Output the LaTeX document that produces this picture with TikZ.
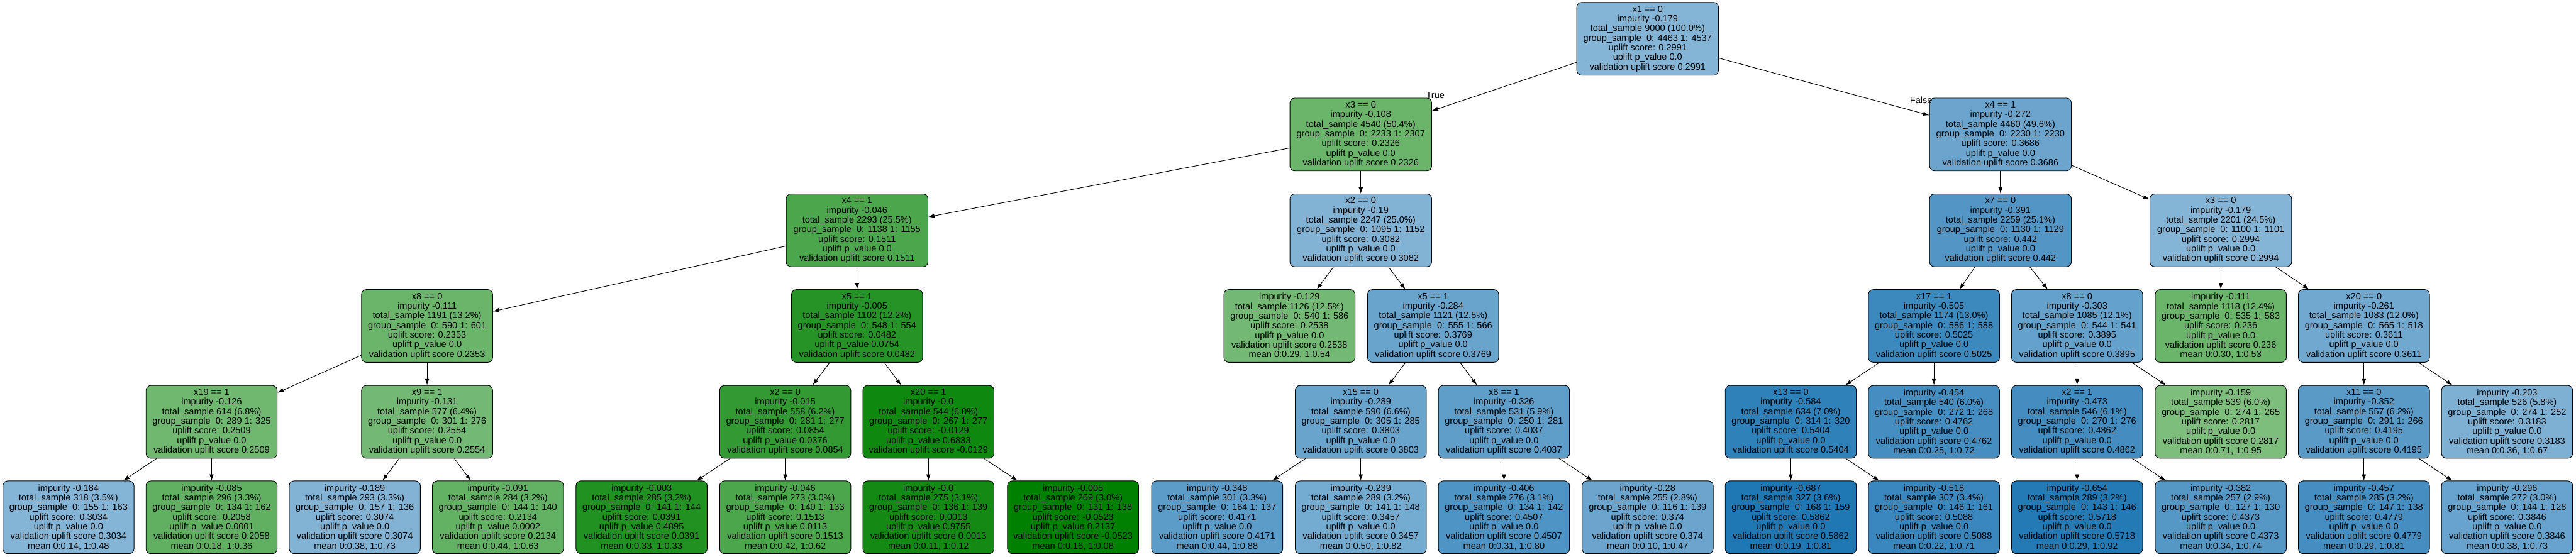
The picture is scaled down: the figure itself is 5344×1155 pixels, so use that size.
\documentclass[tikz,border=0pt]{standalone}
\usepackage{fontspec}
\setmainfont{Liberation Sans}
\usetikzlibrary{arrows.meta}

\definecolor{tgreen}{RGB}{0,128,0}
\definecolor{tblue}{RGB}{31,119,180}
\tikzset{
    grn/.style={fill=tgreen!#1!white},
    blu/.style={fill=tblue!#1!white}
}

\begin{document}
\begin{tikzpicture}[x=1pt, y=-1pt, line width=1.2pt,
    font=\fontsize{19}{20}\selectfont,
    box/.style={rectangle, rounded corners=10pt, draw, minimum height=151pt, minimum width=272pt, inner sep=0pt, align=center},
    wide/.style={box, minimum width=294pt},
    >={Latex[length=13pt, width=9pt]}
]
\useasboundingbox (0,0) rectangle (5344,1155);

% Nodes
\node[wide, blu=55] (v0) at (3418, 80.5) {x1 == 0\\impurity -0.179\\total\_sample 9000 (100.0\%)\\group\_sample\ \ 0: 4463 1: 4537\\uplift score: 0.2991\\uplift p\_value 0.0\\validation uplift score 0.2991};

\node[wide, grn=58] (v1) at (2823, 279) {x3 == 0\\impurity -0.108\\total\_sample 4540 (50.4\%)\\group\_sample\ \ 0: 2233 1: 2307\\uplift score: 0.2326\\uplift p\_value 0.0\\validation uplift score 0.2326};
\node[wide, blu=66] (v2) at (4150, 279) {x4 == 1\\impurity -0.272\\total\_sample 4460 (49.6\%)\\group\_sample\ \ 0: 2230 1: 2230\\uplift score: 0.3686\\uplift p\_value 0.0\\validation uplift score 0.3686};

\node[wide, grn=70] (v3) at (1778, 478) {x4 == 1\\impurity -0.046\\total\_sample 2293 (25.5\%)\\group\_sample\ \ 0: 1138 1: 1155\\uplift score: 0.1511\\uplift p\_value 0.0\\validation uplift score 0.1511};
\node[wide, blu=56] (v4) at (2823, 478) {x2 == 0\\impurity -0.19\\total\_sample 2247 (25.0\%)\\group\_sample\ \ 0: 1095 1: 1152\\uplift score: 0.3082\\uplift p\_value 0.0\\validation uplift score 0.3082};
\node[wide, blu=77] (v5) at (4150, 478) {x7 == 0\\impurity -0.391\\total\_sample 2259 (25.1\%)\\group\_sample\ \ 0: 1130 1: 1129\\uplift score: 0.442\\uplift p\_value 0.0\\validation uplift score 0.442};
\node[wide, blu=55] (v6) at (4607, 478) {x3 == 0\\impurity -0.179\\total\_sample 2201 (24.5\%)\\group\_sample\ \ 0: 1100 1: 1101\\uplift score: 0.2994\\uplift p\_value 0.0\\validation uplift score 0.2994};

\node[box, grn=58] (v7) at (886, 676.5) {x8 == 0\\impurity -0.111\\total\_sample 1191 (13.2\%)\\group\_sample\ \ 0: 590 1: 601\\uplift score: 0.2353\\uplift p\_value 0.0\\validation uplift score 0.2353};
\node[box, grn=85] (v8) at (1778, 676.5) {x5 == 1\\impurity -0.005\\total\_sample 1102 (12.2\%)\\group\_sample\ \ 0: 548 1: 554\\uplift score: 0.0482\\uplift p\_value 0.0754\\validation uplift score 0.0482};
\node[box, grn=55] (v9) at (2675, 676.5) {impurity -0.129\\total\_sample 1126 (12.5\%)\\group\_sample\ \ 0: 540 1: 586\\uplift score: 0.2538\\uplift p\_value 0.0\\validation uplift score 0.2538\\mean 0:0.29, 1:0.54};
\node[box, blu=67] (v10) at (2973, 676.5) {x5 == 1\\impurity -0.284\\total\_sample 1121 (12.5\%)\\group\_sample\ \ 0: 555 1: 566\\uplift score: 0.3769\\uplift p\_value 0.0\\validation uplift score 0.3769};
\node[box, blu=87] (v11) at (4012, 676.5) {x17 == 1\\impurity -0.505\\total\_sample 1174 (13.0\%)\\group\_sample\ \ 0: 586 1: 588\\uplift score: 0.5025\\uplift p\_value 0.0\\validation uplift score 0.5025};
\node[box, blu=69] (v12) at (4309, 676.5) {x8 == 0\\impurity -0.303\\total\_sample 1085 (12.1\%)\\group\_sample\ \ 0: 544 1: 541\\uplift score: 0.3895\\uplift p\_value 0.0\\validation uplift score 0.3895};
\node[box, grn=58] (v13) at (4607, 676.5) {impurity -0.111\\total\_sample 1118 (12.4\%)\\group\_sample\ \ 0: 535 1: 583\\uplift score: 0.236\\uplift p\_value 0.0\\validation uplift score 0.236\\mean 0:0.30, 1:0.53};
\node[box, blu=64] (v14) at (4904, 676.5) {x20 == 0\\impurity -0.261\\total\_sample 1083 (12.0\%)\\group\_sample\ \ 0: 565 1: 518\\uplift score: 0.3611\\uplift p\_value 0.0\\validation uplift score 0.3611};

\node[box, grn=56] (v15) at (439, 875.5) {x19 == 1\\impurity -0.126\\total\_sample 614 (6.8\%)\\group\_sample\ \ 0: 289 1: 325\\uplift score: 0.2509\\uplift p\_value 0.0\\validation uplift score 0.2509};
\node[box, grn=55] (v16) at (886, 875.5) {x9 == 1\\impurity -0.131\\total\_sample 577 (6.4\%)\\group\_sample\ \ 0: 301 1: 276\\uplift score: 0.2554\\uplift p\_value 0.0\\validation uplift score 0.2554};
\node[box, grn=80] (v17) at (1629, 875.5) {x2 == 0\\impurity -0.015\\total\_sample 558 (6.2\%)\\group\_sample\ \ 0: 281 1: 277\\uplift score: 0.0854\\uplift p\_value 0.0376\\validation uplift score 0.0854};
\node[box, grn=94] (v18) at (1926, 875.5) {x20 == 1\\impurity -0.0\\total\_sample 544 (6.0\%)\\group\_sample\ \ 0: 267 1: 277\\uplift score: -0.0129\\uplift p\_value 0.6833\\validation uplift score -0.0129};
\node[box, blu=67] (v19) at (2823, 875.5) {x15 == 0\\impurity -0.289\\total\_sample 590 (6.6\%)\\group\_sample\ \ 0: 305 1: 285\\uplift score: 0.3803\\uplift p\_value 0.0\\validation uplift score 0.3803};
\node[box, blu=71] (v20) at (3120, 875.5) {x6 == 1\\impurity -0.326\\total\_sample 531 (5.9\%)\\group\_sample\ \ 0: 250 1: 281\\uplift score: 0.4037\\uplift p\_value 0.0\\validation uplift score 0.4037};
\node[box, blu=93] (v21) at (3715, 875.5) {x13 == 0\\impurity -0.584\\total\_sample 634 (7.0\%)\\group\_sample\ \ 0: 314 1: 320\\uplift score: 0.5404\\uplift p\_value 0.0\\validation uplift score 0.5404};
\node[box, blu=83] (v22) at (4012, 875.5) {impurity -0.454\\total\_sample 540 (6.0\%)\\group\_sample\ \ 0: 272 1: 268\\uplift score: 0.4762\\uplift p\_value 0.0\\validation uplift score 0.4762\\mean 0:0.25, 1:0.72};
\node[box, blu=84] (v23) at (4309, 875.5) {x2 == 1\\impurity -0.473\\total\_sample 546 (6.1\%)\\group\_sample\ \ 0: 270 1: 276\\uplift score: 0.4862\\uplift p\_value 0.0\\validation uplift score 0.4862};
\node[box, grn=51] (v24) at (4607, 875.5) {impurity -0.159\\total\_sample 539 (6.0\%)\\group\_sample\ \ 0: 274 1: 265\\uplift score: 0.2817\\uplift p\_value 0.0\\validation uplift score 0.2817\\mean 0:0.71, 1:0.95};
\node[box, blu=74] (v25) at (4904, 875.5) {x11 == 0\\impurity -0.352\\total\_sample 557 (6.2\%)\\group\_sample\ \ 0: 291 1: 266\\uplift score: 0.4195\\uplift p\_value 0.0\\validation uplift score 0.4195};
\node[box, blu=58] (v26) at (5201, 875.5) {impurity -0.203\\total\_sample 526 (5.8\%)\\group\_sample\ \ 0: 274 1: 252\\uplift score: 0.3183\\uplift p\_value 0.0\\validation uplift score 0.3183\\mean 0:0.36, 1:0.67};

\node[box, blu=55] (v27) at (142, 1073.5) {impurity -0.184\\total\_sample 318 (3.5\%)\\group\_sample\ \ 0: 155 1: 163\\uplift score: 0.3034\\uplift p\_value 0.0\\validation uplift score 0.3034\\mean 0:0.14, 1:0.48};
\node[box, grn=62] (v28) at (439, 1073.5) {impurity -0.085\\total\_sample 296 (3.3\%)\\group\_sample\ \ 0: 134 1: 162\\uplift score: 0.2058\\uplift p\_value 0.0001\\validation uplift score 0.2058\\mean 0:0.18, 1:0.36};
\node[box, blu=56] (v29) at (736, 1073.5) {impurity -0.189\\total\_sample 293 (3.3\%)\\group\_sample\ \ 0: 157 1: 136\\uplift score: 0.3074\\uplift p\_value 0.0\\validation uplift score 0.3074\\mean 0:0.38, 1:0.73};
\node[box, grn=61] (v30) at (1033, 1073.5) {impurity -0.091\\total\_sample 284 (3.2\%)\\group\_sample\ \ 0: 144 1: 140\\uplift score: 0.2134\\uplift p\_value 0.0002\\validation uplift score 0.2134\\mean 0:0.44, 1:0.63};
\node[box, grn=87] (v31) at (1331, 1073.5) {impurity -0.003\\total\_sample 285 (3.2\%)\\group\_sample\ \ 0: 141 1: 144\\uplift score: 0.0391\\uplift p\_value 0.4895\\validation uplift score 0.0391\\mean 0:0.33, 1:0.33};
\node[box, grn=70] (v32) at (1629, 1073.5) {impurity -0.046\\total\_sample 273 (3.0\%)\\group\_sample\ \ 0: 140 1: 133\\uplift score: 0.1513\\uplift p\_value 0.0113\\validation uplift score 0.1513\\mean 0:0.42, 1:0.62};
\node[box, grn=92] (v33) at (1926, 1073.5) {impurity -0.0\\total\_sample 275 (3.1\%)\\group\_sample\ \ 0: 136 1: 139\\uplift score: 0.0013\\uplift p\_value 0.9755\\validation uplift score 0.0013\\mean 0:0.11, 1:0.12};
\node[box, grn=100] (v34) at (2226, 1073.5) {impurity -0.005\\total\_sample 269 (3.0\%)\\group\_sample\ \ 0: 131 1: 138\\uplift score: -0.0523\\uplift p\_value 0.2137\\validation uplift score -0.0523\\mean 0:0.16, 1:0.08};
\node[box, blu=73] (v35) at (2525, 1073.5) {impurity -0.348\\total\_sample 301 (3.3\%)\\group\_sample\ \ 0: 164 1: 137\\uplift score: 0.4171\\uplift p\_value 0.0\\validation uplift score 0.4171\\mean 0:0.44, 1:0.88};
\node[box, blu=62] (v36) at (2823, 1073.5) {impurity -0.239\\total\_sample 289 (3.2\%)\\group\_sample\ \ 0: 141 1: 148\\uplift score: 0.3457\\uplift p\_value 0.0\\validation uplift score 0.3457\\mean 0:0.50, 1:0.82};
\node[box, blu=79] (v37) at (3120, 1073.5) {impurity -0.406\\total\_sample 276 (3.1\%)\\group\_sample\ \ 0: 134 1: 142\\uplift score: 0.4507\\uplift p\_value 0.0\\validation uplift score 0.4507\\mean 0:0.31, 1:0.80};
\node[box, blu=66] (v38) at (3418, 1073.5) {impurity -0.28\\total\_sample 255 (2.8\%)\\group\_sample\ \ 0: 116 1: 139\\uplift score: 0.374\\uplift p\_value 0.0\\validation uplift score 0.374\\mean 0:0.10, 1:0.47};
\node[box, blu=100] (v39) at (3715, 1073.5) {impurity -0.687\\total\_sample 327 (3.6\%)\\group\_sample\ \ 0: 168 1: 159\\uplift score: 0.5862\\uplift p\_value 0.0\\validation uplift score 0.5862\\mean 0:0.19, 1:0.81};
\node[box, blu=88] (v40) at (4012, 1073.5) {impurity -0.518\\total\_sample 307 (3.4\%)\\group\_sample\ \ 0: 146 1: 161\\uplift score: 0.5088\\uplift p\_value 0.0\\validation uplift score 0.5088\\mean 0:0.22, 1:0.71};
\node[box, blu=98] (v41) at (4309, 1073.5) {impurity -0.654\\total\_sample 289 (3.2\%)\\group\_sample\ \ 0: 143 1: 146\\uplift score: 0.5718\\uplift p\_value 0.0\\validation uplift score 0.5718\\mean 0:0.29, 1:0.92};
\node[box, blu=76] (v42) at (4607, 1073.5) {impurity -0.382\\total\_sample 257 (2.9\%)\\group\_sample\ \ 0: 127 1: 130\\uplift score: 0.4373\\uplift p\_value 0.0\\validation uplift score 0.4373\\mean 0:0.34, 1:0.74};
\node[box, blu=83] (v43) at (4904, 1073.5) {impurity -0.457\\total\_sample 285 (3.2\%)\\group\_sample\ \ 0: 147 1: 138\\uplift score: 0.4779\\uplift p\_value 0.0\\validation uplift score 0.4779\\mean 0:0.29, 1:0.81};
\node[box, blu=68] (v44) at (5201, 1073.5) {impurity -0.296\\total\_sample 272 (3.0\%)\\group\_sample\ \ 0: 144 1: 128\\uplift score: 0.3846\\uplift p\_value 0.0\\validation uplift score 0.3846\\mean 0:0.38, 1:0.73};

% Arrows
\draw[->] (v0) -- node[pos=1, xshift=7pt, yshift=32pt] {True} (v1);
\draw[->] (v0) -- node[pos=1, xshift=-17pt, yshift=31pt] {False} (v2);
\draw[->] (v1) -- (v3);
\draw[->] (v1) -- (v4);
\draw[->] (v2) -- (v5);
\draw[->] (v2) -- (v6);
\draw[->] (v3) -- (v7);
\draw[->] (v3) -- (v8);
\draw[->] (v4) -- (v9);
\draw[->] (v4) -- (v10);
\draw[->] (v5) -- (v11);
\draw[->] (v5) -- (v12);
\draw[->] (v6) -- (v13);
\draw[->] (v6) -- (v14);
\draw[->] (v7) -- (v15);
\draw[->] (v7) -- (v16);
\draw[->] (v8) -- (v17);
\draw[->] (v8) -- (v18);
\draw[->] (v10) -- (v19);
\draw[->] (v10) -- (v20);
\draw[->] (v11) -- (v21);
\draw[->] (v11) -- (v22);
\draw[->] (v12) -- (v23);
\draw[->] (v12) -- (v24);
\draw[->] (v14) -- (v25);
\draw[->] (v14) -- (v26);
\draw[->] (v15) -- (v27);
\draw[->] (v15) -- (v28);
\draw[->] (v16) -- (v29);
\draw[->] (v16) -- (v30);
\draw[->] (v17) -- (v31);
\draw[->] (v17) -- (v32);
\draw[->] (v18) -- (v33);
\draw[->] (v18) -- (v34);
\draw[->] (v19) -- (v35);
\draw[->] (v19) -- (v36);
\draw[->] (v20) -- (v37);
\draw[->] (v20) -- (v38);
\draw[->] (v21) -- (v39);
\draw[->] (v21) -- (v40);
\draw[->] (v23) -- (v41);
\draw[->] (v23) -- (v42);
\draw[->] (v25) -- (v43);
\draw[->] (v25) -- (v44);

\end{tikzpicture}
\end{document}
